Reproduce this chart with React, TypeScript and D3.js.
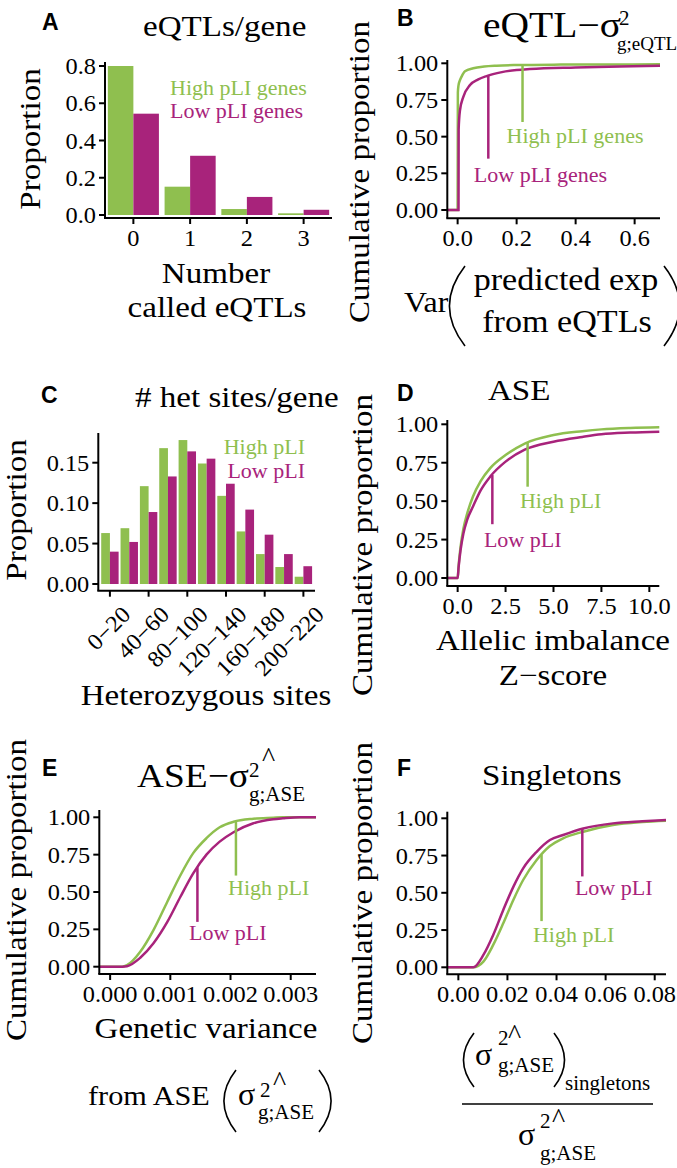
import React from 'react';
import * as d3 from 'd3';

const W = 677;
const H = 1168;
const GREEN = '#8fbf4f';
const MAGENTA = '#a8237b';
const SERIF = '"Liberation Serif", "Times New Roman", Times, serif';
const SANS = '"Liberation Sans", Arial, Helvetica, sans-serif';

// A - eQTLs per gene
const eqtlCounts = ['0', '1', '2', '3'];
const eqtlHigh = [0.8, 0.152, 0.032, 0.009];
const eqtlLow = [0.544, 0.318, 0.097, 0.028];
const eqtlTicks = [0, 0.2, 0.4, 0.6, 0.8];

// C - het sites per gene
const hetBins = ['0−20', '20−40', '40−60', '60−80', '80−100', '100−120', '120−140', '140−160', '160−180', '180−200', '200−220'];
const hetHigh = [0.063, 0.069, 0.121, 0.168, 0.178, 0.149, 0.109, 0.065, 0.037, 0.021, 0.009];
const hetLow = [0.040, 0.052, 0.089, 0.133, 0.164, 0.155, 0.124, 0.092, 0.061, 0.037, 0.022];
const hetShownBins = ['0−20', '40−60', '80−100', '120−140', '160−180', '200−220'];
const hetTicks = [0, 0.05, 0.1, 0.15];

const cumTicks = [0, 0.25, 0.5, 0.75, 1];

// B - variance of predicted expression from eQTLs
const varHighX = [-0.035, 0, 0.0008, 0.003, 0.007, 0.0135, 0.025, 0.053, 0.09, 0.132, 0.2, 0.35, 0.5, 0.686];
const varHigh = [0, 0, 0.8, 0.85, 0.88, 0.909, 0.945, 0.966, 0.978, 0.984, 0.988, 0.991, 0.992, 0.993];
const varLowX = [-0.035, 0.003, 0.0035, 0.008, 0.019, 0.042, 0.07, 0.098, 0.15, 0.245, 0.4, 0.55, 0.686];
const varLow = [0, 0, 0.55, 0.68, 0.77, 0.852, 0.89, 0.913, 0.94, 0.961, 0.972, 0.979, 0.984];
const varTicks = [0, 0.2, 0.4, 0.6];

// D - allelic imbalance z-score
const zX = [-0.54, 0, 0.05, 0.15, 0.3, 0.5, 0.8, 1.2, 1.7, 2.5, 3.5, 5, 6.5, 7.5, 9, 10.52];
const zHigh = [0, 0, 0.08, 0.2, 0.32, 0.42, 0.53, 0.63, 0.715, 0.8, 0.875, 0.93, 0.955, 0.967, 0.976, 0.98];
const zLow = [0, 0, 0.07, 0.18, 0.29, 0.38, 0.465, 0.57, 0.66, 0.757, 0.835, 0.887, 0.918, 0.935, 0.946, 0.952];
const zTicks = [0, 2.5, 5, 7.5, 10];

// E - genetic variance from ASE
const gvX = [-0.00018, 0.0002, 0.00028, 0.0005, 0.00072, 0.00095, 0.00117, 0.00138, 0.0016, 0.00182, 0.00205, 0.00238, 0.00271, 0.00287, 0.00315, 0.00342];
const gvHigh = [0, 0, 0.01, 0.1, 0.245, 0.435, 0.614, 0.76, 0.86, 0.933, 0.97, 0.99, 0.997, 1, 1, 1];
const gvLow = [0, 0, 0.003, 0.06, 0.157, 0.3, 0.47, 0.625, 0.75, 0.837, 0.9, 0.96, 0.987, 0.993, 1, 1];
const gvTicks = [0, 0.001, 0.002, 0.003];

// F - singleton share
const sgX = [-0.0045, 0.0061, 0.0102, 0.0142, 0.0183, 0.0224, 0.0264, 0.0319, 0.0373, 0.0427, 0.0509, 0.063, 0.075, 0.0846];
const sgHigh = [0, 0, 0.038, 0.15, 0.295, 0.452, 0.586, 0.72, 0.814, 0.866, 0.91, 0.955, 0.975, 0.984];
const sgLow = [0, 0, 0.083, 0.217, 0.385, 0.54, 0.664, 0.775, 0.854, 0.888, 0.932, 0.966, 0.98, 0.989];
const sgTicks = [0, 0.02, 0.04, 0.06, 0.08];

const Txt = ({ x, y, fs, sx = 1, rotate = 0, anchor = 'start', fill = '#000', family = SERIF, weight = 400, children }: any) => {
  let t = `translate(${x},${y})`;
  if (rotate) t += ` rotate(${rotate})`;
  if (sx !== 1) t += ` scale(${sx},1)`;
  return (
    <text transform={t} fontSize={fs} textAnchor={anchor} fill={fill} fontFamily={family} fontWeight={weight}>
      {children}
    </text>
  );
};

const Big = (p: any) => <Txt fs={29} sx={1.14} {...p} />;
const Tick = (p: any) => <Txt fs={23} sx={1.06} {...p} />;
const Letter = (p: any) => <Txt fs={23} family={SANS} weight={700} {...p} />;
const Hat = (p: any) => <Txt fs={28} {...p}>^</Txt>;

const YAxis = ({ frame, y, ticks, fmt }: any) => (
  <g>
    <line x1={frame.left} x2={frame.left} y1={frame.top} y2={frame.bottom} stroke="#000" strokeWidth={2} />
    {ticks.map((t: number) => (
      <g key={t}>
        <line x1={frame.left - 6} x2={frame.left} y1={y(t)} y2={y(t)} stroke="#000" strokeWidth={2} />
        <Tick x={frame.left - 9} y={y(t) + 8} anchor="end">{fmt(t)}</Tick>
      </g>
    ))}
  </g>
);

const XAxis = ({ frame, positions, labels }: any) => (
  <g>
    <line x1={frame.left - 1} x2={frame.right} y1={frame.bottom} y2={frame.bottom} stroke="#000" strokeWidth={2} />
    {positions.map((px: number, i: number) => (
      <g key={i}>
        <line x1={px} x2={px} y1={frame.bottom} y2={frame.bottom + 6} stroke="#000" strokeWidth={2} />
        {labels && <Tick x={px} y={frame.bottom + 28} anchor="middle">{labels[i]}</Tick>}
      </g>
    ))}
  </g>
);

const EcdfPanel = ({ frame, zero, one, xDomain, xTicks, xFmt, highX, high, lowX, low, notes }: any) => {
  const x = d3.scaleLinear().domain(xDomain).range([frame.left, frame.right]);
  const y = d3.scaleLinear().domain([0, 1]).range([zero, one]);
  const line = d3.line<[number, number]>().x((d) => x(d[0])).y((d) => y(d[1])).curve(d3.curveMonotoneX);
  return (
    <g>
      <path d={line(d3.zip(highX, high) as any) || ''} fill="none" stroke={GREEN} strokeWidth={2.5} />
      <path d={line(d3.zip(lowX, low) as any) || ''} fill="none" stroke={MAGENTA} strokeWidth={2.5} />
      {notes.map((n: any) => (
        <g key={n.label}>
          <line x1={x(n.x)} x2={x(n.x)} y1={y(n.top)} y2={y(n.bottom)} stroke={n.color} strokeWidth={2.5} />
          <Txt x={x(n.lx)} y={y(n.ly)} fs={22} fill={n.color}>{n.label}</Txt>
        </g>
      ))}
      <YAxis frame={frame} y={y} ticks={cumTicks} fmt={d3.format('.2f')} />
      <XAxis frame={frame} positions={xTicks.map((t: number) => x(t))} labels={xTicks.map(xFmt)} />
    </g>
  );
};

const Paren = ({ x, top, bottom, dir }: any) => {
  const mid = (top + bottom) / 2;
  const bulge = dir === 'left' ? x - 30 * ((bottom - top) / 77) : x + 30 * ((bottom - top) / 77);
  return <path d={`M${x},${top} Q${bulge},${mid} ${x},${bottom}`} fill="none" stroke="#000" strokeWidth={1.6} />;
};

export default function App() {
  // A
  const frameA = { left: 105, right: 332, top: 62, bottom: 218 };
  const xA = d3.scaleBand().domain(eqtlCounts).range([frameA.left, frameA.right]).paddingInner(0.1).paddingOuter(0.05);
  const subA = d3.scaleBand().domain(['high', 'low']).range([0, xA.bandwidth()]);
  const yA = d3.scaleLinear().domain([0, 0.8]).range([215, 66]);

  // C
  const frameC = { left: 98.3, right: 315, top: 433, bottom: 590.7 };
  const xC = d3.scaleBand().domain(hetBins).range([frameC.left, frameC.right]).paddingInner(0.1).paddingOuter(0.15);
  const subC = d3.scaleBand().domain(['high', 'low']).range([0, xC.bandwidth()]);
  const yC = d3.scaleLinear().domain([0, 0.15]).range([584, 462.7]);

  return (
    <svg width={W} height={H} style={{ position: 'absolute', left: 0, top: 0, background: '#fff' }}>
      {/* A */}
      <Letter x={42} y={30}>A</Letter>
      <Big x={143} y={36}>eQTLs/gene</Big>
      {eqtlCounts.map((c, i) => (
        <g key={c}>
          <rect x={xA(c)! + subA('high')!} y={yA(eqtlHigh[i])} width={subA.bandwidth()} height={yA(0) - yA(eqtlHigh[i])} fill={GREEN} />
          <rect x={xA(c)! + subA('low')!} y={yA(eqtlLow[i])} width={subA.bandwidth()} height={yA(0) - yA(eqtlLow[i])} fill={MAGENTA} />
        </g>
      ))}
      <Txt x={170} y={95} fs={22} fill={GREEN}>High pLI genes</Txt>
      <Txt x={170} y={118} fs={22} fill={MAGENTA}>Low pLI genes</Txt>
      <YAxis frame={frameA} y={yA} ticks={eqtlTicks} fmt={d3.format('.1f')} />
      <XAxis frame={frameA} positions={eqtlCounts.map((c) => xA(c)! + xA.bandwidth() / 2)} labels={eqtlCounts} />
      <Big x={40} y={139} rotate={-90} anchor="middle">Proportion</Big>
      <Big x={216} y={283} anchor="middle">Number</Big>
      <Big x={217} y={317} anchor="middle">called eQTLs</Big>

      {/* B */}
      <Letter x={397} y={26}>B</Letter>
      <Txt x={483} y={37} fs={35} sx={1.13}>eQTL−σ</Txt>
      <Txt x={619} y={25} fs={21}>2</Txt>
      <Txt x={617} y={50} fs={19}>g;eQTL</Txt>
      <EcdfPanel
        frame={{ left: 447.3, right: 660, top: 60, bottom: 218.3 }}
        zero={210}
        one={63.3}
        xDomain={[-0.035, 0.686]}
        xTicks={varTicks}
        xFmt={d3.format('.1f')}
        highX={varHighX}
        high={varHigh}
        lowX={varLowX}
        low={varLow}
        notes={[
          { x: 0.22, top: 0.988, bottom: 0.6, color: GREEN, label: 'High pLI genes', lx: 0.166, ly: 0.455 },
          { x: 0.104, top: 0.917, bottom: 0.35, color: MAGENTA, label: 'Low pLI genes', lx: 0.055, ly: 0.193 },
        ]}
      />
      <Big x={369} y={172} rotate={-90} anchor="middle">Cumulative proportion</Big>
      <Txt x={404} y={312} fs={29} sx={1.1}>Var</Txt>
      <Paren x={465} top={266} bottom={346} dir="left" />
      <Txt x={566} y={290} fs={31} sx={1.1} anchor="middle">predicted exp</Txt>
      <Txt x={567} y={332} fs={31} sx={1.1} anchor="middle">from eQTLs</Txt>
      <Paren x={664} top={266} bottom={346} dir="right" />

      {/* C */}
      <Letter x={41} y={403}>C</Letter>
      <Big x={135} y={407}># het sites/gene</Big>
      {hetBins.map((b, i) => (
        <g key={b}>
          <rect x={xC(b)! + subC('high')!} y={yC(hetHigh[i])} width={subC.bandwidth()} height={yC(0) - yC(hetHigh[i])} fill={GREEN} />
          <rect x={xC(b)! + subC('low')!} y={yC(hetLow[i])} width={subC.bandwidth()} height={yC(0) - yC(hetLow[i])} fill={MAGENTA} />
        </g>
      ))}
      <Txt x={305} y={454} fs={22} fill={GREEN} anchor="end">High pLI</Txt>
      <Txt x={305} y={478} fs={22} fill={MAGENTA} anchor="end">Low pLI</Txt>
      <YAxis frame={frameC} y={yC} ticks={hetTicks} fmt={d3.format('.2f')} />
      <XAxis frame={frameC} positions={hetShownBins.map((b) => xC(b)! + xC.bandwidth() / 2)} />
      {hetShownBins.map((b) => (
        <Tick key={b} x={xC(b)! + xC.bandwidth() / 2 + 22} y={616} rotate={-45} anchor="end">{b}</Tick>
      ))}
      <Big x={26} y={510} rotate={-90} anchor="middle">Proportion</Big>
      <Big x={206} y={705} anchor="middle">Heterozygous sites</Big>

      {/* D */}
      <Letter x={397} y={401}>D</Letter>
      <Big x={488} y={400}>ASE</Big>
      <EcdfPanel
        frame={{ left: 447.3, right: 659.3, top: 420, bottom: 586 }}
        zero={578}
        one={424.3}
        xDomain={[-0.54, 10.52]}
        xTicks={zTicks}
        xFmt={d3.format('.1f')}
        highX={zX}
        high={zHigh}
        lowX={zX}
        low={zLow}
        notes={[
          { x: 3.65, top: 0.885, bottom: 0.594, color: GREEN, label: 'High pLI', lx: 3.25, ly: 0.453 },
          { x: 1.81, top: 0.67, bottom: 0.35, color: MAGENTA, label: 'Low pLI', lx: 1.37, ly: 0.204 },
        ]}
      />
      <Big x={371.5} y={545} rotate={-90} anchor="middle">Cumulative proportion</Big>
      <Big x={553} y={650} anchor="middle">Allelic imbalance</Big>
      <Big x={553} y={685} anchor="middle">Z−score</Big>

      {/* E */}
      <Letter x={42} y={776}>E</Letter>
      <Txt x={137} y={787} fs={34} sx={1.1}>ASE−σ</Txt>
      <Txt x={249} y={777} fs={21}>2</Txt>
      <Hat x={262} y={766} />
      <Txt x={249} y={801} fs={21}>g;ASE</Txt>
      <EcdfPanel
        frame={{ left: 99.3, right: 316, top: 810, bottom: 974 }}
        zero={966.7}
        one={817.3}
        xDomain={[-0.00018, 0.00342]}
        xTicks={gvTicks}
        xFmt={d3.format('.3f')}
        highX={gvX}
        high={gvHigh}
        lowX={gvX}
        low={gvLow}
        notes={[
          { x: 0.00209, top: 0.975, bottom: 0.61, color: GREEN, label: 'High pLI', lx: 0.00196, ly: 0.48 },
          { x: 0.00145, top: 0.665, bottom: 0.3, color: MAGENTA, label: 'Low pLI', lx: 0.00131, ly: 0.179 },
        ]}
      />
      <Big x={26} y={890} rotate={-90} anchor="middle">Cumulative proportion</Big>
      <Big x={206} y={1038} anchor="middle">Genetic variance</Big>
      <Txt x={88} y={1105} fs={28} sx={1.08}>from ASE</Txt>
      <Paren x={236} top={1070} bottom={1132} dir="left" />
      <Txt x={238} y={1105} fs={32}>σ</Txt>
      <Txt x={260} y={1097} fs={21}>2</Txt>
      <Hat x={273} y={1090} />
      <Txt x={258} y={1119} fs={21}>g;ASE</Txt>
      <Paren x={319} top={1070} bottom={1132} dir="right" />

      {/* F */}
      <Letter x={397} y={776}>F</Letter>
      <Big x={482} y={785}>Singletons</Big>
      <EcdfPanel
        frame={{ left: 447.3, right: 666, top: 811.7, bottom: 974.3 }}
        zero={967.3}
        one={818.3}
        xDomain={[-0.0045, 0.0846]}
        xTicks={sgTicks}
        xFmt={d3.format('.2f')}
        highX={sgX}
        high={sgHigh}
        lowX={sgX}
        low={sgLow}
        notes={[
          { x: 0.0505, top: 0.93, bottom: 0.61, color: MAGENTA, label: 'Low pLI', lx: 0.0475, ly: 0.485 },
          { x: 0.0339, top: 0.755, bottom: 0.31, color: GREEN, label: 'High pLI', lx: 0.0304, ly: 0.172 },
        ]}
      />
      <Big x={371.5} y={893} rotate={-90} anchor="middle">Cumulative proportion</Big>
      <Paren x={474} top={1033} bottom={1087} dir="left" />
      <Txt x={475} y={1065} fs={32}>σ</Txt>
      <Txt x={498} y={1045} fs={21}>2</Txt>
      <Hat x={508} y={1043} />
      <Txt x={498} y={1072} fs={21}>g;ASE</Txt>
      <Paren x={554} top={1033} bottom={1087} dir="right" />
      <Txt x={565} y={1090} fs={21}>singletons</Txt>
      <line x1={462} x2={653} y1={1104} y2={1104} stroke="#000" strokeWidth={1.5} />
      <Txt x={518} y={1145} fs={32}>σ</Txt>
      <Txt x={540} y={1128} fs={21}>2</Txt>
      <Hat x={552} y={1127} />
      <Txt x={540} y={1160} fs={21}>g;ASE</Txt>
    </svg>
  );
}
